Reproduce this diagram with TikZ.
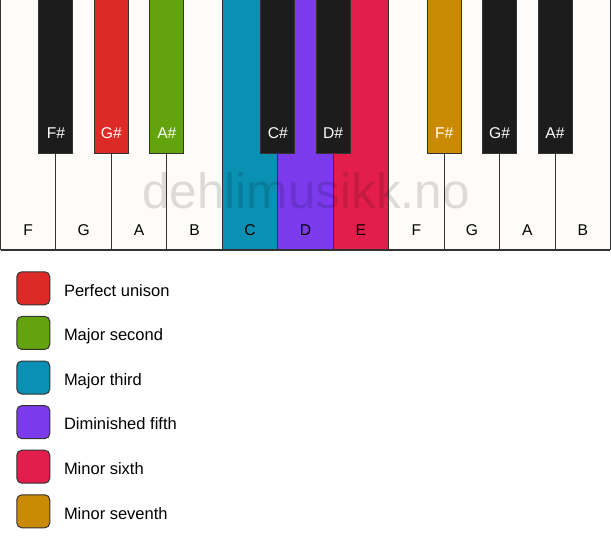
\documentclass[tikz,border=0pt]{standalone}
\usepackage{fontspec}
\setmainfont{Liberation Sans}
\usepackage{tikz}
\usetikzlibrary{positioning}
\definecolor{ivory}{HTML}{FDFCF9}
\definecolor{ebony}{HTML}{1C1C1C}
\definecolor{edge}{HTML}{333333}
\definecolor{unison}{HTML}{DD2A27}
\definecolor{second}{HTML}{62A30E}
\definecolor{third}{HTML}{0A90B3}
\definecolor{fifth}{HTML}{7B3BEC}
\definecolor{sixth}{HTML}{E31E4C}
\definecolor{seventh}{HTML}{CA8A04}

\begin{document}
\begin{tikzpicture}[x=1pt,y=1pt]
\tikzstyle{every node}+=[inner sep=0pt, outer sep=0pt]
\tikzstyle{whitekey}=[draw=edge, line width=1pt, fill=ivory, minimum width=55.45pt, minimum height=252pt]
\tikzstyle{blackkey}=[draw=edge, line width=1pt, fill=ebony, minimum width=34pt, minimum height=155.5pt, anchor=north]
\tikzstyle{keyname}=[font=\fontsize{15.6}{18}\selectfont, anchor=base]
\tikzstyle{sharpname}=[keyname, text=white]
\tikzstyle{swatch}=[draw=edge, line width=1pt, rounded corners=5pt, minimum size=33pt]
\tikzstyle{legendtext}=[font=\fontsize{16.5}{19}\selectfont, anchor=base west]
\useasboundingbox (0,0) rectangle (611,-550);
% white keys
\node [whitekey] (kF1) at (28.225,-123.5) {};
\node [whitekey, right=0pt of kF1] (kG1) {};
\node [whitekey, right=0pt of kG1] (kA1) {};
\node [whitekey, right=0pt of kA1] (kB1) {};
\node [whitekey, right=0pt of kB1, fill=third] (kC) {};
\node [whitekey, right=0pt of kC, fill=fifth] (kD) {};
\node [whitekey, right=0pt of kD, fill=sixth] (kE) {};
\node [whitekey, right=0pt of kE] (kF2) {};
\node [whitekey, right=0pt of kF2] (kG2) {};
\node [whitekey, right=0pt of kG2] (kA2) {};
\node [whitekey, right=0pt of kA2] (kB2) {};
\node [keyname] (nF1) at ([yshift=13.8pt]kF1.south) {F};
\node [keyname] (nG1) at ([yshift=13.8pt]kG1.south) {G};
\node [keyname] (nA1) at ([yshift=13.8pt]kA1.south) {A};
\node [keyname] (nB1) at ([yshift=13.8pt]kB1.south) {B};
\node [keyname] (nC) at ([yshift=13.8pt]kC.south) {C};
\node [keyname] (nD) at ([yshift=13.8pt]kD.south) {D};
\node [keyname] (nE) at ([yshift=13.8pt]kE.south) {E};
\node [keyname] (nF2) at ([yshift=13.8pt]kF2.south) {F};
\node [keyname] (nG2) at ([yshift=13.8pt]kG2.south) {G};
\node [keyname] (nA2) at ([yshift=13.8pt]kA2.south) {A};
\node [keyname] (nB2) at ([yshift=13.8pt]kB2.south) {B};
\draw [edge, line width=2pt] (kF1.south west) -- (kB2.south east);
% watermark
\node [font=\fontsize{49.5}{55}\selectfont, text=black, text opacity=0.13, anchor=base] (mark) at (306,-208) {dehlimusikk.no};
% black keys
\node [blackkey] (kFs1) at (kF1.north east) {};
\node [blackkey, fill=unison] (kGs1) at (kG1.north east) {};
\node [blackkey, fill=second] (kAs1) at (kA1.north east) {};
\node [blackkey] (kCs) at (kC.north east) {};
\node [blackkey] (kDs) at (kD.north east) {};
\node [blackkey, fill=seventh] (kFs2) at (kF2.north east) {};
\node [blackkey] (kGs2) at (kG2.north east) {};
\node [blackkey] (kAs2) at (kA2.north east) {};
\node [sharpname] (nFs1) at ([yshift=14.3pt]kFs1.south) {F\#};
\node [sharpname] (nGs1) at ([yshift=14.3pt]kGs1.south) {G\#};
\node [sharpname] (nAs1) at ([yshift=14.3pt]kAs1.south) {A\#};
\node [sharpname] (nCs) at ([yshift=14.3pt]kCs.south) {C\#};
\node [sharpname] (nDs) at ([yshift=14.3pt]kDs.south) {D\#};
\node [sharpname] (nFs2) at ([yshift=14.3pt]kFs2.south) {F\#};
\node [sharpname] (nGs2) at ([yshift=14.3pt]kGs2.south) {G\#};
\node [sharpname] (nAs2) at ([yshift=14.3pt]kAs2.south) {A\#};
% legend
\node [swatch, fill=unison] (sw1) at (33.3,-288.3) {};
\node [swatch, fill=second, below=11.6pt of sw1] (sw2) {};
\node [swatch, fill=third, below=11.6pt of sw2] (sw3) {};
\node [swatch, fill=fifth, below=11.6pt of sw3] (sw4) {};
\node [swatch, fill=sixth, below=11.6pt of sw4] (sw5) {};
\node [swatch, fill=seventh, below=11.6pt of sw5] (sw6) {};
\node [legendtext] (t1) at ([xshift=14.2pt,yshift=-7.7pt]sw1.east) {Perfect unison};
\node [legendtext] (t2) at ([xshift=14.2pt,yshift=-7.7pt]sw2.east) {Major second};
\node [legendtext] (t3) at ([xshift=14.2pt,yshift=-7.7pt]sw3.east) {Major third};
\node [legendtext] (t4) at ([xshift=14.2pt,yshift=-7.7pt]sw4.east) {Diminished fifth};
\node [legendtext] (t5) at ([xshift=14.2pt,yshift=-7.7pt]sw5.east) {Minor sixth};
\node [legendtext] (t6) at ([xshift=14.2pt,yshift=-7.7pt]sw6.east) {Minor seventh};
\end{tikzpicture}
\end{document}
